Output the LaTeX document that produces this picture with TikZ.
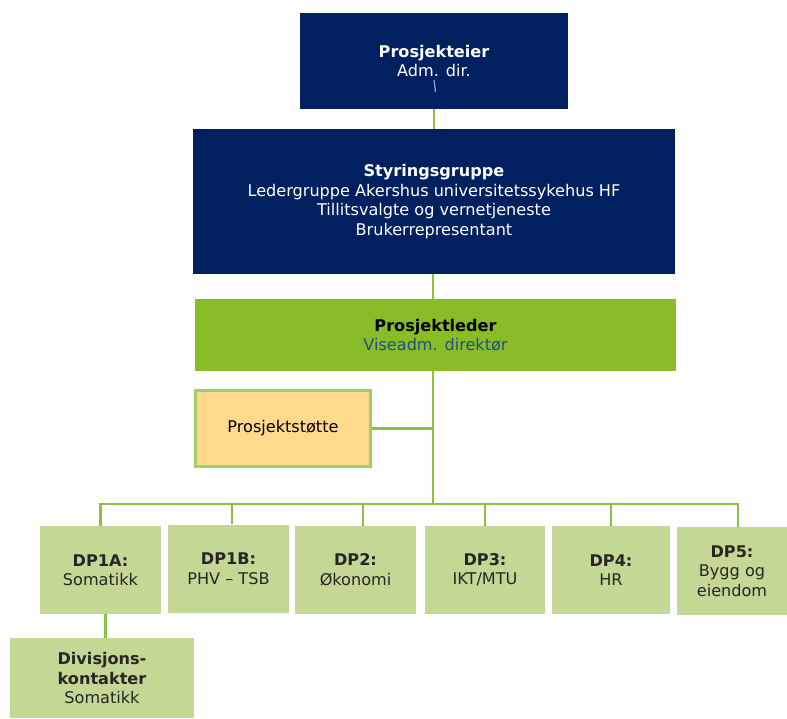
\documentclass[tikz,border=0pt]{standalone}
\usepackage{fontspec}
\setmainfont{DejaVu Sans}
\usetikzlibrary{positioning}

\definecolor{navy}{RGB}{0,32,96}
\definecolor{leafgreen}{RGB}{137,188,38}
\definecolor{palegreen}{RGB}{195,216,148}
\definecolor{paleorange}{RGB}{255,217,140}
\definecolor{linegreen}{RGB}{140,192,62}
\definecolor{textblue}{RGB}{31,78,140}
\definecolor{tickblue}{RGB}{140,170,210}

\begin{document}
\begin{tikzpicture}[x=1pt,y=-1pt,
    box/.style={rectangle,align=center,inner sep=2pt,
        font=\fontsize{16.1}{19.5}\selectfont},
    topbox/.style={box,fill=navy,text=white},
    leadbox/.style={box,fill=leafgreen,text=black},
    dpbox/.style={box,fill=palegreen,text=black!85,
        minimum height=88pt},
    link/.style={draw=linegreen,line width=2.6pt}]
    \useasboundingbox (0,0) rectangle (787,718);

    \node[topbox, minimum width=268pt, minimum height=96pt] (eier) at (434,61)
        {\textbf{Prosjekteier}\\Adm. dir.};
    \node[topbox, minimum width=482pt, minimum height=145pt] (styr) at (434,201.5)
        {\textbf{Styringsgruppe}\\Ledergruppe Akershus universitetssykehus HF\\
         Tillitsvalgte og vernetjeneste\\Brukerrepresentant};
    \node[leadbox, minimum width=481pt, minimum height=72pt] (leder) at (435.5,335)
        {\textbf{Prosjektleder}\\\textcolor{textblue}{Viseadm. direktør}};
    \node[box, fill=paleorange, draw=linegreen!80, line width=3pt,
        minimum width=175pt, minimum height=76pt] (stotte) at (283,428.5)
        {Prosjektstøtte};

    \node[dpbox, minimum width=121pt] (dp1a) at (100.5,570) {\textbf{DP1A:}\\Somatikk};
    \node[dpbox, minimum width=121pt] (dp1b) at (228.5,568.5) {\textbf{DP1B:}\\PHV -- TSB};
    \node[dpbox, minimum width=121pt] (dp2) at (355.5,570) {\textbf{DP2:}\\Økonomi};
    \node[dpbox, minimum width=120pt] (dp3) at (485,570) {\textbf{DP3:}\\IKT/MTU};
    \node[dpbox, minimum width=118pt] (dp4) at (611,570) {\textbf{DP4:}\\HR};
    \node[dpbox, minimum width=110pt] (dp5) at (732,571) {\textbf{DP5:}\\Bygg og\\eiendom};
    \node[dpbox, minimum width=184pt, minimum height=80pt] (div) at (102,678)
        {\textbf{Divisjons-}\\\textbf{kontakter}\\Somatikk};

    \coordinate (bus) at (433,504);

    \draw[link] (eier) -- (styr);
    \draw[tickblue, line width=1.2pt] ([yshift=-19pt]eier.center) -- ([xshift=1.5pt,yshift=-31pt]eier.center);
    \draw[link] (styr.south -| bus) -- (leder.north -| bus);
    \draw[link] (leder.south -| bus) -- (bus);
    \draw[link] (stotte) -- (stotte -| bus);
    \foreach \d/\o in {dp1a/0,dp1b/3.5,dp2/7.5,dp3/0,dp4/0,dp5/6}
        \draw[link] (bus) -| ([xshift=\o pt]\d.north);
    \draw[link, line width=3pt] ([xshift=5pt]dp1a.south) -- ([xshift=5pt]dp1a.south |- div.north);
\end{tikzpicture}
\end{document}
